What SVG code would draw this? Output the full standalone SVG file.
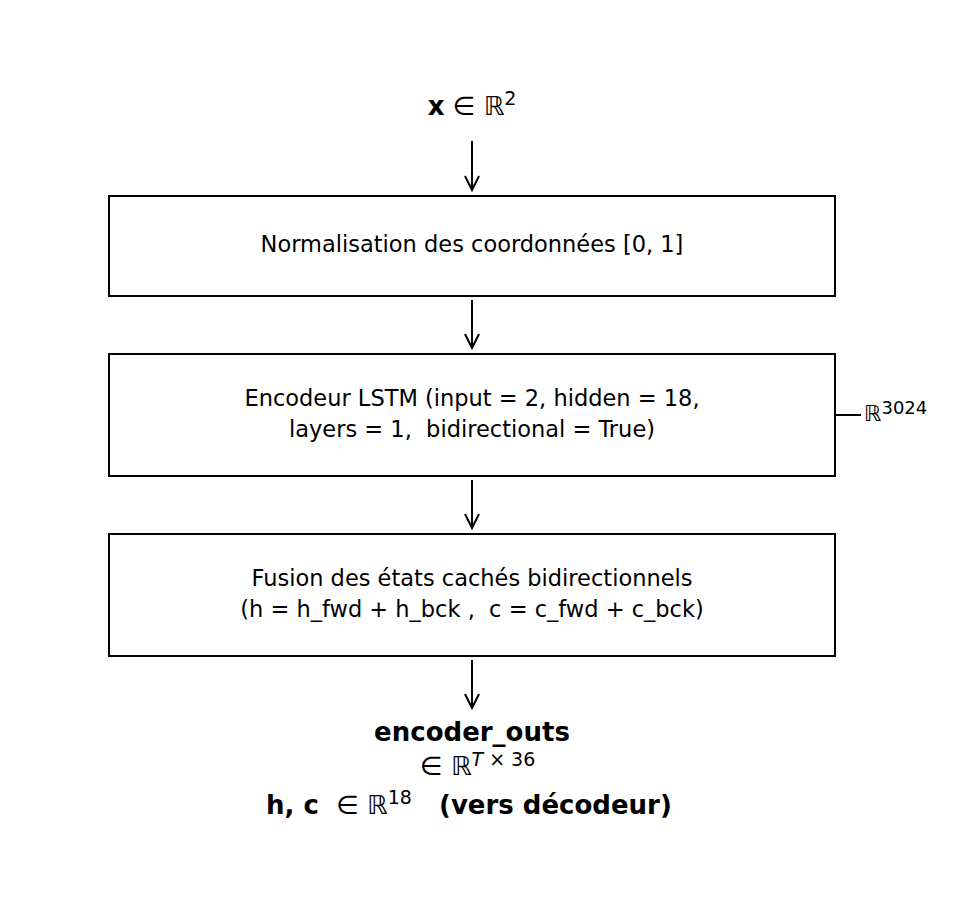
<svg xmlns="http://www.w3.org/2000/svg" width="971" height="899" viewBox="0 0 971 899" xml:space="preserve">
<style>
text{font-family:"DejaVu Sans",sans-serif;fill:#000;white-space:pre}
.n{font-size:22.5px;text-anchor:middle}
.b{font-size:26px;font-weight:bold;text-anchor:middle}
.box{fill:#fff;stroke:#000;stroke-width:2}
.c line,.c path{stroke:#000;stroke-width:2;fill:none}
</style>
<rect width="971" height="899" fill="#fff"/>
<g id="input"><text x="472" y="115" text-anchor="middle" style="font-size:26px"><tspan font-weight="bold">x</tspan> ∈ ℝ<tspan font-size="19" dy="-10">2</tspan></text></g>
<g id="norm"><rect class="box" x="109" y="196" width="726" height="100"/><text class="n" x="472" y="252">Normalisation des coordonnées [0, 1]</text></g>
<g id="lstm"><rect class="box" x="109" y="354" width="726" height="122"/><text class="n" x="472" y="406">Encodeur LSTM (input = 2, hidden = 18,</text><text class="n" x="472" y="437">layers = 1,  bidirectional = True)</text></g>
<g id="fusion"><rect class="box" x="109" y="534" width="726" height="122"/><text class="n" x="472" y="586">Fusion des états cachés bidirectionnels</text><text class="n" x="472" y="617">(h = h_fwd + h_bck ,  c = c_fwd + c_bck)</text></g>
<g id="dim"><text x="864" y="421" style="font-size:22px">ℝ<tspan font-size="18" dy="-7">3024</tspan></text></g>
<g id="output">
<text class="b" x="472" y="741">encoder_outs</text>
<text x="420" y="775" style="font-size:26px">∈ ℝ<tspan font-size="19" dy="-9" font-style="italic">T</tspan><tspan font-size="19"> × 36</tspan></text>
<text x="266" y="814" style="font-size:26px"><tspan font-weight="bold">h, c </tspan> ∈ ℝ<tspan font-size="19" dy="-10">18</tspan><tspan dy="10" font-weight="bold">   (vers décodeur)</tspan></text>
</g>
<g class="c">
<line x1="472" y1="141" x2="472" y2="189"/><path d="M465,176 L472,190 L479,176"/>
<line x1="472" y1="300" x2="472" y2="347"/><path d="M465,334 L472,348 L479,334"/>
<line x1="472" y1="480" x2="472" y2="527"/><path d="M465,514 L472,528 L479,514"/>
<line x1="472" y1="660" x2="472" y2="707"/><path d="M465,694 L472,708 L479,694"/>
<line x1="835" y1="415" x2="861" y2="415"/>
</g>
</svg>
